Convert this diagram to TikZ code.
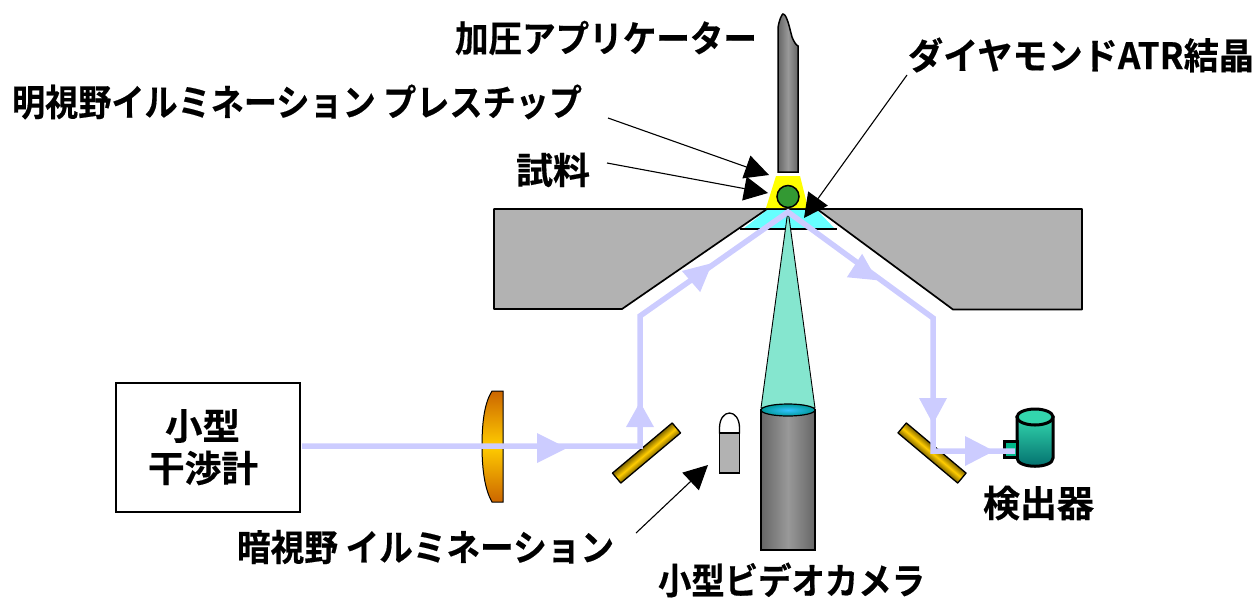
\documentclass[tikz,border=0pt]{standalone}
\usepackage{graphicx}
\usepackage{fontspec}
\setmainfont{Liberation Sans}
\newfontfamily\cjk{Noto Sans CJK JP}[BoldFont={Noto Sans CJK JP Bold},BoldFeatures={FakeBold=0.4}]
\usetikzlibrary{arrows.meta}
\definecolor{beamc}{HTML}{CCCCFF}
\definecolor{platec}{HTML}{B2B2B2}
\definecolor{cyanc}{HTML}{66FFFF}
\definecolor{conec}{HTML}{85E6CF}
\definecolor{goldc}{HTML}{FFCC00}
\definecolor{olivec}{HTML}{806600}
\definecolor{orangec}{HTML}{CC6600}
\definecolor{yelc}{HTML}{FFFF00}
\definecolor{greenc}{HTML}{339933}
\definecolor{dettop}{HTML}{33D6AD}
\definecolor{detmid}{HTML}{00B88A}
\definecolor{detlow}{HTML}{006B6B}
\definecolor{grayside}{HTML}{666666}
\definecolor{graymid}{HTML}{999999}
\newcommand{\fitw}[2]{\resizebox{#1pt}{\totalheight}{\cjk\bfseries #2}}
\tikzset{
  x=1pt,y=-1pt,
  lab/.style={inner sep=0pt,outer sep=0pt,anchor=west,font=\fontsize{33}{36}\selectfont},
  ptr/.style={draw=black,line width=1.1pt,-{Triangle[length=24pt,width=24pt]}},
  beam/.style={draw=beamc,line width=5.5pt,line join=miter},
  beamhead/.style={fill=beamc,draw=none},
  outl/.style={draw=black,line width=1.3pt},
  plate/.style={fill=platec,draw=black,line width=1.7pt,line join=round},
  mirror/.style={outl,line join=round,top color=olivec,bottom color=olivec,middle color=goldc},
  metal/.style={left color=grayside,right color=grayside,middle color=graymid},
}
\begin{document}
\begin{tikzpicture}
\useasboundingbox (0,0) rectangle (1257,598);
% coordinates
\coordinate (bs) at (302,446);
\coordinate (b1) at (640,446);
\coordinate (b2) at (640,316);
\coordinate (b3) at (788,212);
\coordinate (b4) at (933,318);
\coordinate (b5) at (933,451);
\coordinate (b6) at (1015,451);
% source box
\node[draw=black,line width=1.2pt,minimum width=184pt,minimum height=129pt,inner sep=0pt] (src) at (208,447.5) {};
\node[lab] (t1) at (165,426) {\fitw{75}{小型}};
\node[lab] (t2) at (148,468) {\fitw{110}{干渉計}};
% plates
\fill[cyanc] (767,210) -- (817,210) -- (835,229) -- (743,229) -- cycle;
\draw[outl] (740,229) -- (837,229);
\path[plate] (494,209) -- (767,209) -- (622,309) -- (494,309) -- cycle;
\path[plate] (817,209) -- (1082,209) -- (1082,309.5) -- (953,309.5) -- cycle;
\draw[black,line width=1.7pt] (767,209) -- (817,209);
% applicator
\path[metal,draw=black,line width=1.5pt]
  (778,172) -- (778,28) .. controls (779,20) and (782,14) .. (783,14)
  .. controls (787,14) and (790,30) .. (792,37) .. controls (794,42) and (796,45) .. (798,46)
  -- (798,172) -- cycle;
% yellow trapezoid and sample
\fill[yelc] (776,176) -- (800,176) -- (808,208) -- (766,208) -- cycle;
\node[circle,draw=black,line width=1.5pt,fill=greenc,minimum size=22pt,inner sep=0pt] (sample) at (788,196.5) {};
% cone
\path[fill=conec,draw=black,line width=.9pt] (788,210) -- (815,408) -- (761,408) -- cycle;
% camera
\path[metal,draw=black,line width=1.3pt]
  (761,410) -- (815,410) -- (815,550) -- (761,550) -- cycle;
\path[inner color=cyan!70!blue!80!white,outer color=cyan!60!black,draw=black,line width=1.2pt]
  (788,410) ellipse [x radius=27,y radius=6];
% lens
\path[top color=orangec,bottom color=orangec,middle color=goldc,draw=black,line width=1pt]
  (503,391) -- (503,502) -- (492,502) .. controls (485,490) and (482,470) .. (482,446)
  .. controls (482,420) and (485,402) .. (492,391) -- cycle;
% left mirror
\path[mirror,transform canvas={rotate around={40:(646.5,453)}}]
  (607.5,446.5) rectangle (685.5,459.5);
% right mirror
\path[mirror,transform canvas={rotate around={-40:(932,453)}}]
  (893,446.5) rectangle (971,459.5);
% lamp
\draw[outl,fill=white] (719.5,433) -- (719.5,428) .. controls (719.5,419) and (724,413) .. (729.5,413)
  .. controls (735,413) and (739.5,419) .. (739.5,428) -- (739.5,433) -- cycle;
\draw[outl,fill=platec] (719.5,433) rectangle (739.5,473);
% detector
\path[top color=dettop,middle color=detmid,bottom color=detlow,draw=black,line width=3pt]
  (1017,417) -- (1053,417) -- (1053,458) .. controls (1053,469) and (1017,469) .. (1017,458) -- cycle;
\path[fill=detmid,draw=black,line width=3pt] (1004,441) rectangle (1017,457);
\path[fill=dettop,draw=black,line width=3pt] (1035,417) ellipse [x radius=18,y radius=8];
% beam
\draw[beam] (bs) -- (b1) -- (b2) -- (b3) -- (b4) -- (b5) -- (b6);
\fill[beamhead] (537,433) -- (567,448) -- (537,463) -- cycle;
\fill[beamhead] (626,427) -- (640,402) -- (654,427) -- cycle;
\fill[beamhead] (919,398) -- (933,424) -- (947,398) -- cycle;
\fill[beamhead] (965,436) -- (994,451) -- (965,466) -- cycle;
\fill[beamhead,shift={(691,281.5)},rotate=41] (0,-14) -- (28,0) -- (0,14) -- cycle;
\fill[beamhead,shift={(854.5,265.5)},rotate=-33] (0,-14) -- (27,0) -- (0,14) -- cycle;
% labels
\node[lab] (app) at (455,38) {\fitw{302}{加圧アプリケーター}};
\node[lab] (atr) at (908,55) {\fitw{346}{ダイヤモンドATR結晶}};
\node[lab] (bright) at (12,102) {\fitw{570}{明視野イルミネーション プレスチップ}};
\node[lab] (samp) at (516,170) {\fitw{74}{試料}};
\node[lab] (dark) at (237,547) {\fitw{377}{暗視野 イルミネーション}};
\node[lab] (cam) at (658,580) {\fitw{267}{小型ビデオカメラ}};
\node[lab] (det) at (983,503) {\fitw{111}{検出器}};
% pointers
\coordinate (p1s) at (608,118); \coordinate (p1e) at (769,175);
\coordinate (p2s) at (607,163); \coordinate (p2e) at (768,193);
\coordinate (p3s) at (907,75);  \coordinate (p3e) at (804,218);
\coordinate (p4s) at (636,533); \coordinate (p4e) at (708,465);
\draw[ptr] (p1s) -- (p1e);
\draw[ptr] (p2s) -- (p2e);
\draw[ptr] (p3s) -- (p3e);
\draw[ptr] (p4s) -- (p4e);
\end{tikzpicture}
\end{document}
